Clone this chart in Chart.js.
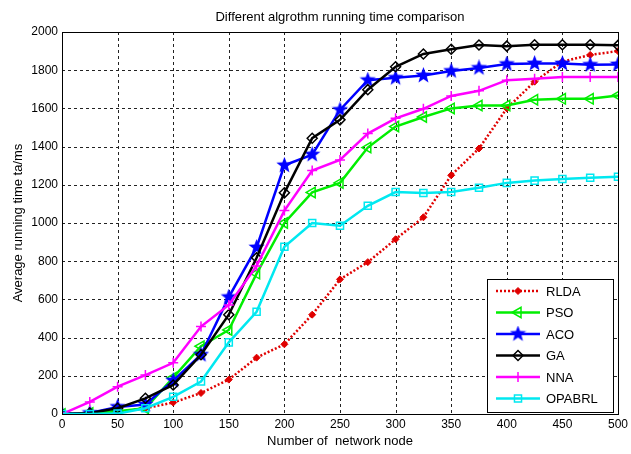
<!DOCTYPE html>
<html>
<head>
<meta charset="utf-8">
<script src="https://cdn.jsdelivr.net/npm/chart.js@4"></script>
<style>
  html, body { margin: 0; padding: 0; background: #fff; }
  #wrap { width: 631px; height: 454px; }
</style>
</head>
<body>
<div id="wrap"><canvas id="timeChart" width="631" height="454"></canvas></div>
<script>
// ------------------------------------------------------
// Data
// ------------------------------------------------------
const nodes  = [0, 25, 50, 75, 100, 125, 150, 175, 200, 225, 250, 275, 300, 325, 350, 375, 400, 425, 450, 475, 500];
const rlda   = [0, 5, 10, 30, 60, 110, 180, 295, 365, 520, 705, 795, 915, 1030, 1250, 1390, 1600, 1740, 1845, 1880, 1900];
const pso    = [0, 5, 15, 30, 190, 355, 440, 735, 1000, 1160, 1210, 1395, 1505, 1555, 1600, 1615, 1615, 1645, 1650, 1650, 1668];
const aco    = [0, 5, 37, 50, 175, 310, 612, 872, 1302, 1358, 1592, 1748, 1760, 1772, 1796, 1812, 1832, 1835, 1835, 1828, 1830];
const ga     = [0, 5, 30, 82, 152, 310, 520, 818, 1158, 1444, 1540, 1698, 1818, 1885, 1910, 1932, 1926, 1933, 1933, 1933, 1930];
const nna    = [0, 63, 143, 204, 268, 458, 571, 775, 1065, 1275, 1330, 1468, 1548, 1598, 1665, 1692, 1748, 1755, 1765, 1765, 1765];
const opabrl = [0, 0, 2, 30, 90, 170, 375, 535, 876, 1000, 986, 1090, 1162, 1157, 1162, 1185, 1210, 1222, 1230, 1237, 1242];

const seriesNames = ["RLDA", "PSO", "ACO", "GA", "NNA", "OPABRL"];
const xTicks = [0, 50, 100, 150, 200, 250, 300, 350, 400, 450, 500];
const yTicks = [0, 200, 400, 600, 800, 1000, 1200, 1400, 1600, 1800, 2000];

const FONT = "'Liberation Sans', Arial, sans-serif";

// filled five point star for ACO
function makeStar(size, color) {
    const c = document.createElement("canvas");
    c.width = size; c.height = size;
    const g = c.getContext("2d");
    const cx = size / 2, cy = size / 2, ro = size / 2, ri = ro * 0.42;
    g.beginPath();
    for (let i = 0; i < 10; i++) {
        const r = i % 2 === 0 ? ro : ri;
        const a = -Math.PI / 2 + i * Math.PI / 5;
        g.lineTo(cx + r * Math.cos(a), cy + r * Math.sin(a));
    }
    g.closePath();
    g.fillStyle = color;
    g.fill();
    return c;
}
const starImg = makeStar(17, "#0000ff");

const toPoints = arr => arr.map((v, i) => ({ x: nodes[i], y: v }));

// ------------------------------------------------------
// Plugins: title, dashed grid, plot box, legend inside plot
// ------------------------------------------------------
const frame = {
    id: "frame",
    beforeDraw(chart) {
        const { ctx, chartArea: a } = chart;
        ctx.save();
        ctx.font = "13px " + FONT;
        ctx.fillStyle = "#000";
        ctx.textAlign = "center";
        ctx.textBaseline = "middle";
        ctx.fillText("Different algrothm running time comparison", (a.left + a.right) / 2, 17);
        ctx.restore();
    },
    beforeDatasetsDraw(chart) {
        const { ctx, chartArea: a, scales } = chart;
        ctx.save();
        ctx.strokeStyle = "#222";
        ctx.lineWidth = 1;
        ctx.setLineDash([3, 3]);
        xTicks.forEach(v => {
            const px = Math.round(scales.x.getPixelForValue(v)) + 0.5;
            ctx.beginPath(); ctx.moveTo(px, a.top); ctx.lineTo(px, a.bottom); ctx.stroke();
        });
        yTicks.forEach(v => {
            const py = Math.round(scales.y.getPixelForValue(v)) + 0.5;
            ctx.beginPath(); ctx.moveTo(a.left, py); ctx.lineTo(a.right, py); ctx.stroke();
        });
        ctx.restore();
    },
    afterDatasetsDraw(chart) {
        const { ctx, chartArea: a } = chart;
        ctx.save();
        ctx.strokeStyle = "#000";
        ctx.lineWidth = 1;
        ctx.strokeRect(a.left + 0.5, a.top + 0.5, a.right - a.left, a.bottom - a.top);

        // legend box
        const bx = 487, by = 279, bw = 126, bh = 133;
        ctx.fillStyle = "#fff";
        ctx.fillRect(bx, by, bw, bh);
        ctx.strokeRect(bx + 0.5, by + 0.5, bw, bh);
        ctx.font = "13px " + FONT;
        ctx.textBaseline = "middle";
        ctx.textAlign = "left";
        chart.data.datasets.forEach((ds, i) => {
            const y = by + 12 + i * 21.5;
            ctx.save();
            ctx.strokeStyle = ds.borderColor;
            ctx.lineWidth = ds.borderWidth;
            ctx.setLineDash(ds.borderDash || []);
            ctx.beginPath();
            ctx.moveTo(bx + 9, y);
            ctx.lineTo(bx + 53, y);
            ctx.stroke();
            ctx.setLineDash([]);
            ctx.fillStyle = ds.pointBackgroundColor;
            ctx.strokeStyle = ds.pointBorderColor;
            ctx.lineWidth = ds.pointBorderWidth;
            Chart.helpers.drawPoint(ctx, {
                pointStyle: ds.pointStyle,
                radius: ds.pointRadius,
                rotation: ds.pointRotation || 0,
                borderWidth: ds.pointBorderWidth
            }, bx + 31, y);
            ctx.restore();
            ctx.fillStyle = "#000";
            ctx.fillText(ds.label, bx + 59, y + 1);
        });
        ctx.restore();
    }
};

// ------------------------------------------------------
// Chart
// ------------------------------------------------------
const ctx = document.getElementById("timeChart");
new Chart(ctx, {
    type: "line",
    data: {
        datasets: [
            {
                label: seriesNames[0], data: toPoints(rlda), order: 6,
                borderColor: "#e00000", borderWidth: 2.5, borderDash: [2, 2],
                pointStyle: "rectRot", pointRadius: 3.5,
                pointBackgroundColor: "#e00000", pointBorderColor: "#e00000", pointBorderWidth: 1
            },
            {
                label: seriesNames[1], data: toPoints(pso), order: 5,
                borderColor: "#00ee00", borderWidth: 2.5,
                pointStyle: "triangle", pointRotation: -90, pointRadius: 6,
                pointBackgroundColor: "rgba(255,255,255,0)", pointBorderColor: "#00ee00", pointBorderWidth: 1.5
            },
            {
                label: seriesNames[2], data: toPoints(aco), order: 4,
                borderColor: "#0000ff", borderWidth: 2.5,
                pointStyle: starImg, pointRadius: 8,
                pointBackgroundColor: "#0000ff", pointBorderColor: "#0000ff", pointBorderWidth: 1
            },
            {
                label: seriesNames[3], data: toPoints(ga), order: 3,
                borderColor: "#000000", borderWidth: 2.5,
                pointStyle: "rectRot", pointRadius: 5,
                pointBackgroundColor: "rgba(255,255,255,0)", pointBorderColor: "#000000", pointBorderWidth: 1.5
            },
            {
                label: seriesNames[4], data: toPoints(nna), order: 2,
                borderColor: "#ff00ff", borderWidth: 2.5,
                pointStyle: "cross", pointRadius: 5,
                pointBackgroundColor: "#ff00ff", pointBorderColor: "#ff00ff", pointBorderWidth: 1.5
            },
            {
                label: seriesNames[5], data: toPoints(opabrl), order: 1,
                borderColor: "#00e8f0", borderWidth: 2.5,
                pointStyle: "rect", pointRadius: 5,
                pointBackgroundColor: "rgba(255,255,255,0)", pointBorderColor: "#00e8f0", pointBorderWidth: 1.5
            }
        ]
    },
    options: {
        responsive: false,
        animation: false,
        layout: { padding: { left: 2, right: 11, top: 32, bottom: 5 } },
        elements: { line: { tension: 0 } },
        plugins: {
            legend: { display: false },
            tooltip: { enabled: false },
            title: { display: false }
        },
        scales: {
            x: {
                type: "linear", min: 0, max: 500,
                afterFit: s => { s.height = 35; },
                afterBuildTicks: s => { s.ticks = xTicks.map(v => ({ value: v })); },
                ticks: {
                    color: "#000", font: { family: FONT, size: 12 }, padding: 3, maxRotation: 0,
                    callback: v => String(v)
                },
                grid: { display: false, drawTicks: false },
                border: { color: "#000" },
                title: {
                    display: true, text: "Number of  network node", color: "#000",
                    font: { family: FONT, size: 13 }, padding: { top: 0, bottom: 0 }
                }
            },
            y: {
                min: 0, max: 2000,
                afterFit: s => { s.width = 60; },
                afterBuildTicks: s => { s.ticks = yTicks.map(v => ({ value: v })); },
                ticks: {
                    color: "#000", font: { family: FONT, size: 12 }, padding: 4,
                    callback: v => String(v)
                },
                grid: { display: false, drawTicks: false },
                border: { color: "#000" },
                title: {
                    display: true, text: "Average running time ta/ms", color: "#000",
                    font: { family: FONT, size: 13 }, padding: { top: 9, bottom: 0 }
                }
            }
        }
    },
    plugins: [frame]
});
</script>
</body>
</html>
